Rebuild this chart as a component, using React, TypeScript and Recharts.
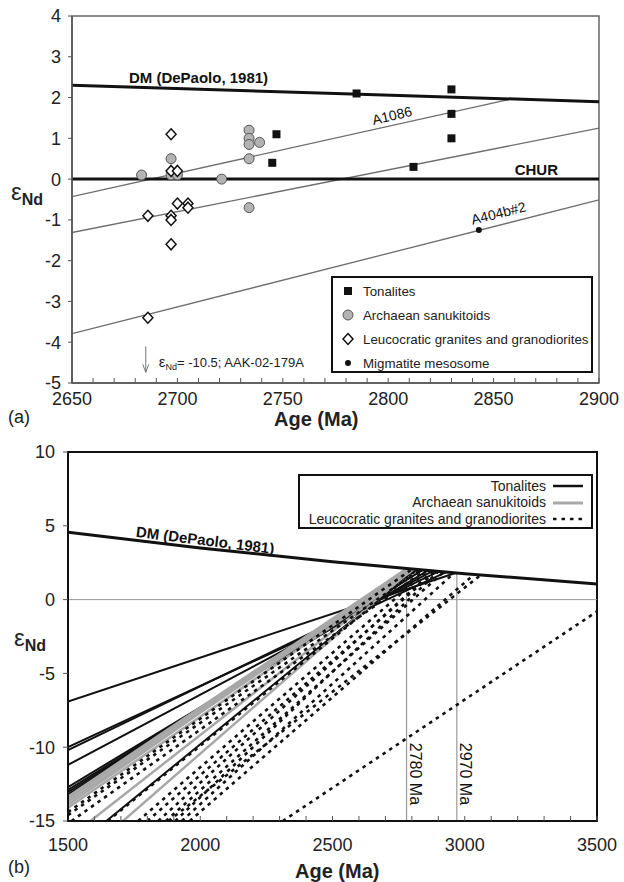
import React from 'react';
import {
  ComposedChart,
  Line,
  Scatter,
  XAxis,
  YAxis,
  ReferenceArea,
  ReferenceLine,
  ReferenceDot,
} from 'recharts';

const FONT = '"Liberation Sans", Arial, Helvetica, sans-serif';

// ---------- panel (a): samples ----------
const tonaliteAge = [2747, 2745, 2785, 2812, 2830, 2830, 2830];
const tonaliteEps = [1.1, 0.4, 2.1, 0.3, 2.2, 1.6, 1.0];

const sanukitoidAge = [2683, 2697, 2697, 2700, 2721, 2734, 2734, 2734, 2739, 2734, 2734];
const sanukitoidEps = [0.1, 0.5, 0.1, 0.1, 0.0, 1.2, 1.0, 0.85, 0.9, 0.5, -0.7];

const leucoAge = [2697, 2697, 2700, 2700, 2705, 2705, 2686, 2697, 2697, 2697, 2686];
const leucoEps = [1.1, 0.2, 0.2, -0.6, -0.6, -0.7, -0.9, -0.9, -1.0, -1.6, -3.4];

const migmatiteAge = [2843];
const migmatiteEps = [-1.25];

// reference curves, panel (a)
const dmAgeA = [2650, 2775, 2900];
const dmEpsA = [2.3, 2.1, 1.9];
const churAge = [2650, 2900];
const churEps = [0, 0];
const a1086Age = [2650, 2857];
const a1086Eps = [-0.43, 1.95];
const midAge = [2650, 2900];
const midEps = [-1.31, 1.25];
const a404Age = [2650, 2900];
const a404Eps = [-3.79, -0.51];

const xTicksA = [2650, 2660, 2670, 2680, 2690, 2700, 2710, 2720, 2730, 2740, 2750, 2760, 2770, 2780, 2790, 2800, 2810, 2820, 2830, 2840, 2850, 2860, 2870, 2880, 2890, 2900];
const yTicksA = [-5, -4, -3, -2, -1, 0, 1, 2, 3, 4];

// ---------- panel (b): model age lines ----------
const dmAgeB = [1500, 2000, 2500, 3000, 3500];
const dmEpsB = [4.56, 3.5, 2.56, 1.75, 1.06];

const tonStartAge = [1500, 1500, 1500, 1500, 1500, 1500, 1500, 1500, 1645];
const tonStartEps = [-6.9, -10.0, -10.2, -11.2, -12.7, -12.9, -13.05, -13.2, -15];
const tonEndAge = [2965, 2930, 2900, 2880, 2860, 2840, 2820, 2800, 2810];
const tonEndEps = [1.8, 1.86, 1.9, 1.94, 1.97, 2.0, 2.03, 2.06, 2.05];

const sanStartAge = [1500, 1500, 1500, 1500, 1500, 1585, 1708];
const sanStartEps = [-13.35, -13.5, -13.7, -13.9, -14.1, -15, -15];
const sanEndAge = [2780, 2790, 2800, 2780, 2810, 2800, 2800];
const sanEndEps = [2.09, 2.08, 2.06, 2.09, 2.05, 2.06, 2.06];

const leuStartAge = [1500, 1500, 1513, 1650, 1765, 1800, 1841, 1870, 1905, 1930, 1880, 1960, 2312];
const leuStartEps = [-14.4, -14.6, -15, -15, -15, -15, -15, -15, -15, -15, -15, -15, -15];
const leuEndAge = [2800, 2830, 2850, 2820, 2860, 2890, 2880, 2920, 2900, 2960, 3060, 3035, 3500];
const leuEndEps = [2.06, 2.02, 1.99, 2.03, 1.97, 1.92, 1.94, 1.87, 1.9, 1.81, 1.66, 1.7, -0.8];

const xTicksB = [1500, 1600, 1700, 1800, 1900, 2000, 2100, 2200, 2300, 2400, 2500, 2600, 2700, 2800, 2900, 3000, 3100, 3200, 3300, 3400, 3500];
const yTicksB = [-15, -10, -5, 0, 5, 10];

const toPoints = (xs: number[], ys: number[]) => xs.map((x, i) => ({ x, y: ys[i] }));
const segments = (sa: number[], se: number[], ea: number[], ee: number[]) =>
  sa.map((a, i) => [{ x: a, y: se[i] }, { x: ea[i], y: ee[i] }]);

// ---------- markers ----------
const Square = ({ cx, cy }: any) => <rect x={cx - 4} y={cy - 4} width={8} height={8} fill="#111" />;
const Circle = ({ cx, cy }: any) => <circle cx={cx} cy={cy} r={5} fill="#b3b3b3" stroke="#555" strokeWidth={1} />;
const Diamond = ({ cx, cy }: any) => (
  <path d={`M${cx},${cy - 5.5} L${cx + 5},${cy} L${cx},${cy + 5.5} L${cx - 5},${cy} Z`} fill="#fff" stroke="#111" strokeWidth={1.5} />
);
const SmallDot = ({ cx, cy }: any) => <circle cx={cx} cy={cy} r={3} fill="#111" />;

// rotated annotation text anchored at a reference dot
const NoteText = ({ viewBox, text, angle = 0, size = 14, bold = false }: any) => {
  const { x, y } = viewBox;
  return (
    <text
      x={x}
      y={y}
      transform={`rotate(${angle} ${x} ${y})`}
      fontSize={size}
      fontWeight={bold ? 'bold' : 'normal'}
      fontFamily={FONT}
      fill="#111"
    >
      {text}
    </text>
  );
};

const ArrowNote = ({ viewBox }: any) => {
  const { x, y } = viewBox;
  return (
    <g>
      <line x1={x} y1={y} x2={x} y2={y + 26} stroke="#777" strokeWidth={1} />
      <path d={`M${x - 3},${y + 18} L${x},${y + 26} L${x + 3},${y + 18}`} fill="none" stroke="#777" strokeWidth={1} />
      <text x={x + 13} y={y + 21} fontSize={13} fontFamily={FONT} fill="#222">
        <tspan fontSize={15}>ε</tspan>
        <tspan fontSize={9} dy={3}>Nd</tspan>
        <tspan dy={-3}>= -10.5; AAK-02-179A</tspan>
      </text>
    </g>
  );
};

const tickStyle = { fontSize: 18, fill: '#222', fontFamily: FONT };

const EpsLabel = ({ left, top }: { left: number; top: number }) => (
  <div style={{ position: 'absolute', left, top, fontFamily: FONT, color: '#222', lineHeight: 1 }}>
    <span style={{ fontSize: 24 }}>ε</span>
    <span style={{ fontSize: 16, fontWeight: 'bold', position: 'relative', top: 5 }}>Nd</span>
  </div>
);

const abs = (left: number, top: number, extra: React.CSSProperties = {}): React.CSSProperties => ({
  position: 'absolute',
  left,
  top,
  fontFamily: FONT,
  color: '#222',
  lineHeight: 1,
  whiteSpace: 'nowrap',
  ...extra,
});

export default function App() {
  const tonaliteData = toPoints(tonaliteAge, tonaliteEps);
  const sanukitoidData = toPoints(sanukitoidAge, sanukitoidEps);
  const leucoData = toPoints(leucoAge, leucoEps);
  const migmatiteData = toPoints(migmatiteAge, migmatiteEps);

  const tonSegs = segments(tonStartAge, tonStartEps, tonEndAge, tonEndEps);
  const sanSegs = segments(sanStartAge, sanStartEps, sanEndAge, sanEndEps);
  const leuSegs = segments(leuStartAge, leuStartEps, leuEndAge, leuEndEps);

  return (
    <div style={{ position: 'absolute', left: 0, top: 0, width: 624, height: 882, background: '#fff', overflow: 'hidden' }}>
      {/* ---------------- panel (a) ---------------- */}
      <div style={{ position: 'absolute', left: 0, top: 0 }}>
        <ComposedChart width={624} height={440} margin={{ top: 16, right: 25, bottom: 27, left: 32 }}>
          <XAxis
            type="number"
            dataKey="x"
            domain={[2650, 2900]}
            allowDataOverflow
            ticks={xTicksA}
            interval={0}
            tickFormatter={(v: number) => (v % 50 === 0 ? String(v) : '')}
            tickSize={-5}
            tickMargin={14}
            height={30}
            axisLine={{ stroke: '#555', strokeWidth: 1.5 }}
            tickLine={{ stroke: '#555' }}
            tick={tickStyle}
          />
          <YAxis
            type="number"
            dataKey="y"
            domain={[-5, 4]}
            allowDataOverflow
            ticks={yTicksA}
            interval={0}
            width={40}
            tickSize={4}
            tickMargin={7}
            axisLine={{ stroke: '#555', strokeWidth: 1.5 }}
            tickLine={{ stroke: '#555' }}
            tick={tickStyle}
          />
          <ReferenceArea x1={2650} x2={2900} y1={-5} y2={4} fill="none" stroke="#666" strokeWidth={1.5} />

          <Line data={toPoints(a1086Age, a1086Eps)} dataKey="y" stroke="#6e6e6e" strokeWidth={1.3} dot={false} isAnimationActive={false} />
          <Line data={toPoints(midAge, midEps)} dataKey="y" stroke="#6e6e6e" strokeWidth={1.3} dot={false} isAnimationActive={false} />
          <Line data={toPoints(a404Age, a404Eps)} dataKey="y" stroke="#6e6e6e" strokeWidth={1.3} dot={false} isAnimationActive={false} />
          <Line data={toPoints(dmAgeA, dmEpsA)} dataKey="y" stroke="#111" strokeWidth={3} dot={false} isAnimationActive={false} />
          <Line data={toPoints(churAge, churEps)} dataKey="y" stroke="#111" strokeWidth={3} dot={false} isAnimationActive={false} />

          <Scatter data={sanukitoidData} dataKey="y" shape={Circle} isAnimationActive={false} />
          <Scatter data={leucoData} dataKey="y" shape={Diamond} isAnimationActive={false} />
          <Scatter data={tonaliteData} dataKey="y" shape={Square} isAnimationActive={false} />
          <Scatter data={migmatiteData} dataKey="y" shape={SmallDot} isAnimationActive={false} />

          <ReferenceDot x={2677} y={2.36} r={0} ifOverflow="visible" label={(p: any) => <NoteText {...p} text="DM (DePaolo, 1981)" size={15} bold />} />
          <ReferenceDot x={2860} y={0.1} r={0} ifOverflow="visible" label={(p: any) => <NoteText {...p} text="CHUR" size={15} bold />} />
          <ReferenceDot x={2793} y={1.33} r={0} ifOverflow="visible" label={(p: any) => <NoteText {...p} text="A1086" size={14} angle={-13} />} />
          <ReferenceDot x={2840} y={-1.12} r={0} ifOverflow="visible" label={(p: any) => <NoteText {...p} text="A404b#2" size={14} angle={-14} />} />
          <ReferenceDot x={2685} y={-4.1} r={0} ifOverflow="visible" label={(p: any) => <ArrowNote {...p} />} />
        </ComposedChart>
      </div>

      {/* legend (a) */}
      <div style={{ position: 'absolute', left: 331, top: 276, width: 258, height: 93, border: '2px solid #111', background: '#fff', fontFamily: FONT, fontSize: 13.3, color: '#222' }}>
        {[
          { label: 'Tonalites', Shape: Square },
          { label: 'Archaean sanukitoids', Shape: Circle },
          { label: 'Leucocratic granites and granodiorites', Shape: Diamond },
          { label: 'Migmatite mesosome', Shape: SmallDot },
        ].map(({ label, Shape }, i) => (
          <div key={label} style={{ position: 'absolute', left: 0, top: 1 + i * 24, height: 24, display: 'flex', alignItems: 'center', whiteSpace: 'nowrap' }}>
            <svg width={30} height={24}>
              <Shape cx={15} cy={12} />
            </svg>
            <span style={{ marginLeft: 0 }}>{label}</span>
          </div>
        ))}
      </div>

      <EpsLabel left={11} top={180} />
      <div style={abs(8, 408, { fontSize: 18 })}>(a)</div>
      <div style={abs(274, 409, { fontSize: 20, fontWeight: 'bold' })}>Age (Ma)</div>

      {/* ---------------- panel (b) ---------------- */}
      <div style={{ position: 'absolute', left: 0, top: 440 }}>
        <ComposedChart width={624} height={442} margin={{ top: 12, right: 27, bottom: 31, left: 28 }}>
          <XAxis
            type="number"
            dataKey="x"
            domain={[1500, 3500]}
            allowDataOverflow
            ticks={xTicksB}
            interval={0}
            tickFormatter={(v: number) => (v % 500 === 0 ? String(v) : '')}
            tickSize={-5}
            tickMargin={22}
            height={30}
            axisLine={{ stroke: '#111', strokeWidth: 2 }}
            tickLine={{ stroke: '#555' }}
            tick={tickStyle}
          />
          <YAxis
            type="number"
            dataKey="y"
            domain={[-15, 10]}
            allowDataOverflow
            ticks={yTicksB}
            interval={0}
            width={40}
            tickSize={5}
            tickMargin={8}
            axisLine={{ stroke: '#111', strokeWidth: 2 }}
            tickLine={{ stroke: '#555' }}
            tick={tickStyle}
          />
          <ReferenceLine y={0} stroke="#999" strokeWidth={1} />
          <ReferenceLine segment={[{ x: 2780, y: -15 }, { x: 2780, y: 2.09 }]} stroke="#999" strokeWidth={1.2} />
          <ReferenceLine segment={[{ x: 2970, y: -15 }, { x: 2970, y: 1.8 }]} stroke="#999" strokeWidth={1.2} />

          {tonSegs.map((d, i) => (
            <Line key={`t${i}`} data={d} dataKey="y" stroke="#111" strokeWidth={2} dot={false} isAnimationActive={false} />
          ))}
          {sanSegs.map((d, i) => (
            <Line key={`s${i}`} data={d} dataKey="y" stroke="#a8a8a8" strokeWidth={2.5} dot={false} isAnimationActive={false} />
          ))}
          {leuSegs.map((d, i) => (
            <Line key={`l${i}`} data={d} dataKey="y" stroke="#111" strokeWidth={2.6} strokeDasharray="3.5 4.5" dot={false} isAnimationActive={false} />
          ))}
          <Line data={toPoints(dmAgeB, dmEpsB)} dataKey="y" stroke="#111" strokeWidth={3} dot={false} isAnimationActive={false} />

          <ReferenceArea x1={1500} x2={3500} y1={-15} y2={10} fill="none" stroke="#111" strokeWidth={2} />

          <ReferenceDot x={1755} y={4.25} r={0} ifOverflow="visible" label={(p: any) => <NoteText {...p} text="DM (DePaolo, 1981)" size={15} bold angle={7} />} />
          <ReferenceDot x={2780} y={-9.7} r={0} ifOverflow="visible" label={(p: any) => <NoteText {...p} viewBox={{ ...p.viewBox, x: p.viewBox.x + 3 }} text="2780 Ma" size={16} angle={90} />} />
          <ReferenceDot x={2970} y={-9.7} r={0} ifOverflow="visible" label={(p: any) => <NoteText {...p} viewBox={{ ...p.viewBox, x: p.viewBox.x + 3 }} text="2970 Ma" size={16} angle={90} />} />
        </ComposedChart>
      </div>

      {/* legend (b) */}
      <div style={{ position: 'absolute', left: 298, top: 474, width: 291, height: 51, border: '2px solid #111', background: '#fff', fontFamily: FONT, fontSize: 14, color: '#222' }}>
        {[
          { label: 'Tonalites', stroke: '#111', dash: undefined, w: 2.5 },
          { label: 'Archaean sanukitoids', stroke: '#a8a8a8', dash: undefined, w: 3 },
          { label: 'Leucocratic granites and granodiorites', stroke: '#111', dash: '3.5 5', w: 2.6 },
        ].map((r, i) => (
          <div key={r.label} style={{ position: 'absolute', right: 0, top: 1 + i * 16.5, height: 17, display: 'flex', alignItems: 'center', whiteSpace: 'nowrap' }}>
            <span>{r.label}</span>
            <svg width={45} height={17}>
              <line x1={7} y1={9} x2={37} y2={9} stroke={r.stroke} strokeWidth={r.w} strokeDasharray={r.dash} />
            </svg>
          </div>
        ))}
      </div>

      <EpsLabel left={14} top={626} />
      <div style={abs(8, 858, { fontSize: 18 })}>(b)</div>
      <div style={abs(295, 861, { fontSize: 20, fontWeight: 'bold' })}>Age (Ma)</div>
    </div>
  );
}
